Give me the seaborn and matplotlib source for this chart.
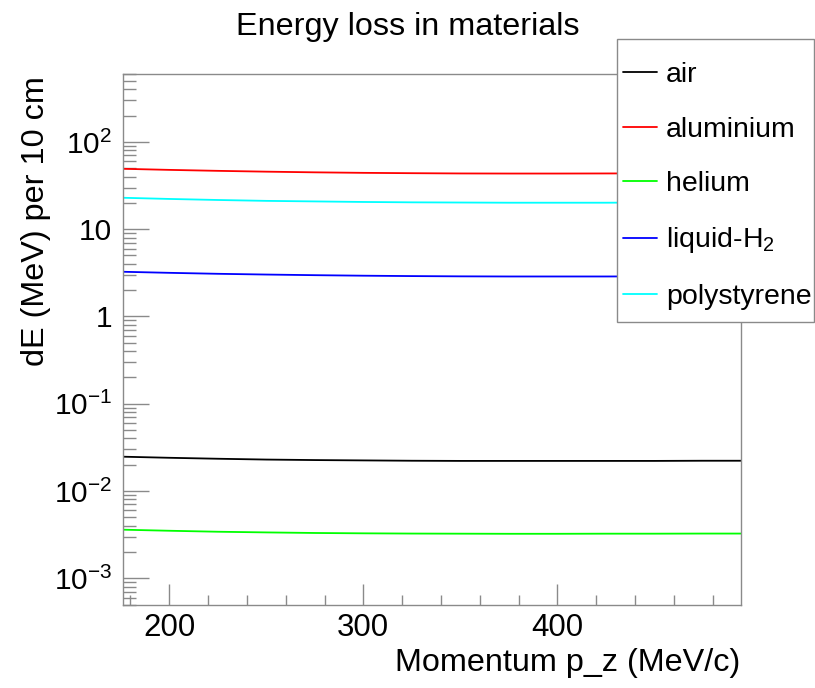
import numpy as np
import pandas as pd
import matplotlib
matplotlib.use("Agg")
import matplotlib.pyplot as plt
import matplotlib.ticker as mticker
from matplotlib.patches import Rectangle
import seaborn as sns

# ---- data ----
momentum = [176, 200, 225, 250, 275, 300, 325, 350, 375, 400, 425, 450, 475, 495]
air = [0.0247, 0.0240, 0.0234, 0.0229, 0.0226, 0.0224, 0.0222, 0.0221, 0.0221, 0.0221, 0.0221, 0.0221, 0.0222, 0.0222]
aluminium = [49.2, 47.8, 46.6, 45.6, 44.8, 44.2, 43.8, 43.5, 43.4, 43.4, 43.5, 43.6, 43.8, 44.0]
helium = [0.0036, 0.00350, 0.00341, 0.00335, 0.00330, 0.00327, 0.00325, 0.00324, 0.00323, 0.00323, 0.00324, 0.00324, 0.00325, 0.00325]
liquid_h2 = [3.25, 3.16, 3.08, 3.02, 2.97, 2.93, 2.90, 2.88, 2.87, 2.87, 2.87, 2.88, 2.88, 2.89]
polystyrene = [22.9, 22.2, 21.6, 21.1, 20.8, 20.5, 20.3, 20.2, 20.1, 20.1, 20.1, 20.2, 20.2, 20.3]

materials = ["air", "aluminium", "helium", "liquid-H$_2$", "polystyrene"]
series = [air, aluminium, helium, liquid_h2, polystyrene]
colors = ["#000000", "#ff0000", "#00ff00", "#0000ff", "#00ffff"]

title = "Energy loss in materials"
xlabel = "Momentum p_z (MeV/c)"
ylabel = "dE (MeV) per 10 cm"
xticks = [200, 300, 400]
ytick_exps = [-3, -2, -1, 0, 1, 2]

df = pd.DataFrame({
    "p": np.concatenate([momentum] * len(series)),
    "dE": np.concatenate(series),
    "material": np.repeat(materials, len(momentum)),
})

sns.set_theme(style="white")
plt.rcParams["font.family"] = ["Liberation Sans", "DejaVu Sans"]
plt.rcParams["mathtext.fontset"] = "custom"
plt.rcParams["mathtext.rm"] = "Liberation Sans"
plt.rcParams["mathtext.it"] = "Liberation Sans:italic"
plt.rcParams["mathtext.bf"] = "Liberation Sans:bold"
plt.rcParams["text.color"] = "black"
plt.rcParams["xtick.labelcolor"] = "black"
plt.rcParams["ytick.labelcolor"] = "black"

W, H = 815, 688
fig = plt.figure(figsize=(W / 100, H / 100), dpi=100)
L, R, T, B = 123.3, 740.7, 74, 604.5
ax = fig.add_axes([L / W, 1 - B / H, (R - L) / W, (B - T) / H])

sns.lineplot(data=df, x="p", y="dE", hue="material", palette=dict(zip(materials, colors)),
             estimator=None, sort=False, linewidth=1.3, ax=ax, legend=False)

ax.set_yscale("log")
ymin, ymax = 5.0e-4, 600
ax.set_xlim(176.3, 494.5)
ax.set_ylim(ymin, ymax)

frame_col = "#8a8a8a"
for s in ax.spines.values():
    s.set_color(frame_col)
    s.set_linewidth(1.0)

ymajor = [10.0 ** e for e in ytick_exps]
yminor = [m * 10.0 ** e for e in range(-4, 3) for m in range(2, 10) if ymin <= m * 10.0 ** e <= ymax]
xminor = [v for v in range(180, 495, 20) if v not in xticks]

ax.xaxis.set_major_locator(mticker.FixedLocator(xticks))
ax.xaxis.set_minor_locator(mticker.FixedLocator(xminor))
ax.yaxis.set_major_locator(mticker.FixedLocator(ymajor))
ax.yaxis.set_minor_locator(mticker.FixedLocator(yminor))


def yfmt(v, pos):
    e = int(round(np.log10(v)))
    if e == 0:
        return "1"
    if e == 1:
        return "10"
    return r"$\mathregular{10^{%d}}$" % e


ax.yaxis.set_major_formatter(mticker.FuncFormatter(yfmt))
ax.yaxis.set_minor_formatter(mticker.NullFormatter())
ax.xaxis.set_major_formatter(mticker.FuncFormatter(lambda v, p: "%d" % v))
ax.xaxis.set_minor_formatter(mticker.NullFormatter())

ax.tick_params(axis="x", which="major", direction="in", length=15, width=1, color=frame_col,
               labelsize=22.5, pad=6, bottom=True, top=False, labelcolor="black")
ax.tick_params(axis="x", which="minor", direction="in", length=7, width=1, color=frame_col,
               bottom=True, top=False)
ax.tick_params(axis="y", which="major", direction="in", length=19, width=1, color=frame_col,
               labelsize=21.5, pad=8, left=True, right=False, labelcolor="black")
ax.tick_params(axis="y", which="minor", direction="in", length=9, width=1, color=frame_col,
               left=True, right=False)
ax.set_xlabel("")
ax.set_ylabel("")

fig.text(0.5, 1 - 27 / H, title, ha="center", va="center", fontsize=23.3, color="black")
fig.text(R / W, 1 - 663 / H, xlabel, ha="right", va="center", fontsize=23.3, color="black")
fig.text(36 / W, 1 - 76 / H, ylabel, ha="center", va="top", rotation=90, fontsize=23.3,
         color="black")

# legend box
bx0, by0, bx1, by1 = 617, 39, 814, 322
rect = Rectangle((bx0 / W, 1 - by1 / H), (bx1 - bx0) / W, (by1 - by0) / H,
                 transform=fig.transFigure, facecolor="white", edgecolor=frame_col,
                 linewidth=1.0, zorder=5)
fig.patches.append(rect)

handles = [plt.Line2D([], [], color=c, linewidth=1.3) for c in colors]
leg = fig.legend(handles, materials, loc="center", bbox_to_anchor=(717 / W, 1 - 186 / H),
                 frameon=False, fontsize=20.5, handlelength=1.22, handletextpad=0.3,
                 labelspacing=1.0, borderpad=0.0, labelcolor="black")
leg.set_zorder(6)

fig.savefig("out.png", dpi=100)
